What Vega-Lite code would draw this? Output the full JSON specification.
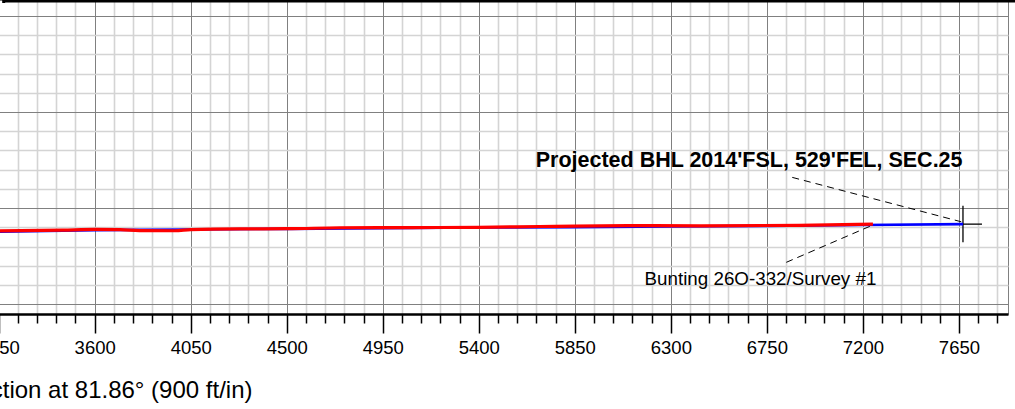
{
  "$schema": "https://vega.github.io/schema/vega-lite/v6.json",
  "width": 1020,
  "height": 314,
  "autosize": {"type": "none"},
  "padding": {"left": -12, "top": 0, "right": 7, "bottom": 95},
  "background": "white",
  "config": {"view": {"stroke": "#808080", "strokeWidth": 1}},
  "datasets": {
    "wells": [
      {"series": "plan", "vs": 3100, "tvd": 9562},
      {"series": "plan", "vs": 3600, "tvd": 9553},
      {"series": "plan", "vs": 4050, "tvd": 9550},
      {"series": "plan", "vs": 4500, "tvd": 9547},
      {"series": "plan", "vs": 4950, "tvd": 9544},
      {"series": "plan", "vs": 5400, "tvd": 9541},
      {"series": "plan", "vs": 5850, "tvd": 9539},
      {"series": "plan", "vs": 6300, "tvd": 9536},
      {"series": "plan", "vs": 6750, "tvd": 9533},
      {"series": "plan", "vs": 7200, "tvd": 9529},
      {"series": "plan", "vs": 7669, "tvd": 9525},
      {"series": "survey", "vs": 3100, "tvd": 9557},
      {"series": "survey", "vs": 3450, "tvd": 9553},
      {"series": "survey", "vs": 3600, "tvd": 9549.5},
      {"series": "survey", "vs": 3720, "tvd": 9551},
      {"series": "survey", "vs": 3810, "tvd": 9555},
      {"series": "survey", "vs": 3975, "tvd": 9556},
      {"series": "survey", "vs": 4050, "tvd": 9551},
      {"series": "survey", "vs": 4280, "tvd": 9547},
      {"series": "survey", "vs": 4500, "tvd": 9546.5},
      {"series": "survey", "vs": 4750, "tvd": 9542},
      {"series": "survey", "vs": 5400, "tvd": 9540},
      {"series": "survey", "vs": 5685, "tvd": 9536},
      {"series": "survey", "vs": 5850, "tvd": 9534},
      {"series": "survey", "vs": 6100, "tvd": 9532},
      {"series": "survey", "vs": 6435, "tvd": 9533},
      {"series": "survey", "vs": 6900, "tvd": 9530.5},
      {"series": "survey", "vs": 7247, "tvd": 9525}
    ],
    "leaders": [
      {"name": "bhl", "vs": 6869, "tvd": 9306, "vs2": 7661, "tvd2": 9514},
      {"name": "survey", "vs": 6841, "tvd": 9704, "vs2": 7247, "tvd2": 9529}
    ],
    "cross": [
      {"part": "v", "vs": 7669, "tvd": 9439, "vs2": 7669, "tvd2": 9610},
      {"part": "h", "vs": 7630, "tvd": 9525, "vs2": 7758, "tvd2": 9525}
    ],
    "frame": [
      {"part": "top", "vs": 3173.5, "tvd": 8479.7, "vs2": 8000, "tvd2": 8479.7},
      {"part": "stub", "vs": 3173.5, "tvd": 8470, "vs2": 3173.5, "tvd2": 8489}
    ],
    "labels": [
      {"kind": "bhl", "label": "Projected BHL 2014'FSL, 529'FEL, SEC.25", "vs": 7667, "tvd": 9256},
      {"kind": "survey", "label": "Bunting 26O-332/Survey #1", "vs": 7263, "tvd": 9810.5}
    ]
  },
  "encoding": {
    "x": {
      "field": "vs", "type": "quantitative",
      "scale": {"domain": [3100, 7880], "nice": false, "zero": false},
      "axis": {
        "values": [3150,3240,3330,3420,3510,3600,3690,3780,3870,3960,4050,4140,4230,4320,4410,4500,4590,4680,4770,4860,4950,5040,5130,5220,5310,5400,5490,5580,5670,5760,5850,5940,6030,6120,6210,6300,6390,6480,6570,6660,6750,6840,6930,7020,7110,7200,7290,7380,7470,7560,7650,7740,7830],
        "format": "d",
        "labelExpr": "datum.value % 450 === 0 ? datum.label : ''",
        "grid": true,
        "gridColor": {"condition": {"test": "datum.value % 450 === 0", "value": "#808080"}, "value": "#d4d4d4"},
        "gridWidth": {"condition": {"test": "datum.value % 450 === 0", "value": 1}, "value": 1.6},
        "tickColor": "#000000",
        "tickWidth": 1.5,
        "tickSize": {"condition": {"test": "datum.value % 450 === 0", "value": 19}, "value": 9},
        "domainColor": "#000000",
        "domainWidth": 2.5,
        "labelFont": "Liberation Sans",
        "labelFontSize": 18.5,
        "labelColor": "#000000",
        "labelPadding": 5,
        "labelFlush": false,
        "labelOverlap": false,
        "title": "Vertical Section at 81.86° (900 ft/in)",
        "titleFont": "Liberation Sans",
        "titleFontSize": 24,
        "titleFontWeight": "normal",
        "titleColor": "#000000",
        "titleAlign": "right",
        "titleBaseline": "alphabetic",
        "titleX": 264,
        "titleY": 83
      }
    },
    "y": {
      "field": "tvd", "type": "quantitative",
      "scale": {"domain": [8475, 9946], "nice": false, "zero": false, "reverse": true},
      "axis": {
        "values": [8550,8640,8730,8820,8910,9000,9090,9180,9270,9360,9450,9540,9630,9720,9810,9900],
        "grid": true,
        "gridColor": {"condition": {"test": "(datum.value - 8550) % 450 === 0", "value": "#808080"}, "value": "#d4d4d4"},
        "gridWidth": {"condition": {"test": "(datum.value - 8550) % 450 === 0", "value": 1}, "value": 1.6},
        "labels": false,
        "ticks": false,
        "domain": false,
        "title": null
      }
    }
  },
  "layer": [
    {
      "data": {"name": "frame"},
      "mark": {"type": "rule", "color": "#000000", "strokeWidth": 3},
      "encoding": {"x2": {"field": "vs2"}, "y2": {"field": "tvd2"}}
    },
    {
      "data": {"name": "cross"},
      "mark": {"type": "rule", "color": "#000000", "strokeWidth": 1.3},
      "encoding": {"x2": {"field": "vs2"}, "y2": {"field": "tvd2"}}
    },
    {
      "data": {"name": "leaders"},
      "mark": {"type": "rule", "color": "#000000", "strokeWidth": 1, "strokeDash": [7, 5]},
      "encoding": {"x2": {"field": "vs2"}, "y2": {"field": "tvd2"}}
    },
    {
      "data": {"name": "wells"},
      "transform": [{"filter": "datum.series === 'plan'"}],
      "mark": {"type": "line", "color": "#0000ff", "strokeWidth": 2.6},
      "encoding": {}
    },
    {
      "data": {"name": "wells"},
      "transform": [{"filter": "datum.series === 'survey'"}],
      "mark": {"type": "line", "color": "#ff0000", "strokeWidth": 3.2, "interpolate": "monotone"},
      "encoding": {}
    },
    {
      "data": {"name": "labels"},
      "transform": [{"filter": "datum.kind === 'bhl'"}],
      "mark": {"type": "text", "align": "right", "baseline": "alphabetic", "font": "Liberation Sans", "fontSize": 21.5, "fontWeight": "bold", "color": "#000000"},
      "encoding": {"text": {"field": "label"}}
    },
    {
      "data": {"name": "labels"},
      "transform": [{"filter": "datum.kind === 'survey'"}],
      "mark": {"type": "text", "align": "right", "baseline": "alphabetic", "font": "Liberation Sans", "fontSize": 18.8, "color": "#000000"},
      "encoding": {"text": {"field": "label"}}
    }
  ]
}
